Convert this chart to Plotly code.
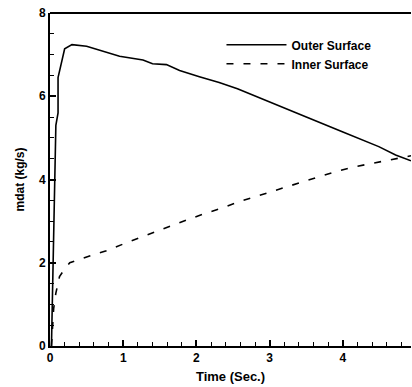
import plotly.graph_objects as go

# Data
outer_t = [0.02, 0.04, 0.06, 0.08, 0.11, 0.11, 0.2, 0.3, 0.5, 0.68, 0.95, 1.27, 1.40, 1.59,
           1.77, 2.04, 2.31, 2.56, 3.0, 3.5, 4.0, 4.26, 4.49, 4.72, 4.93]
outer_m = [0.0, 2.0, 4.0, 5.3, 5.6, 6.45, 7.14, 7.24, 7.2, 7.10, 6.96, 6.87, 6.78, 6.76,
           6.62, 6.47, 6.33, 6.18, 5.87, 5.5, 5.14, 4.95, 4.79, 4.59, 4.45]

inner_t = [0.02, 0.03, 0.05, 0.08, 0.13, 0.2, 0.27, 0.54, 0.77, 1.0, 1.22, 1.45, 1.68, 1.9,
           2.13, 2.36, 2.59, 3.0, 3.5, 3.90, 4.17, 4.40, 4.62, 4.85, 4.93]
inner_m = [0.0, 0.45, 0.9, 1.27, 1.67, 1.85, 2.0, 2.16, 2.29, 2.45, 2.6, 2.75, 2.91, 3.05,
           3.19, 3.32, 3.47, 3.7, 3.97, 4.19, 4.31, 4.39, 4.47, 4.55, 4.57]

x_ticks = [0, 1, 2, 3, 4]
y_ticks = [0, 2, 4, 6, 8]

FONT = "Liberation Sans, Arial, sans-serif"

fig = go.Figure()
fig.add_trace(go.Scatter(x=outer_t, y=outer_m, mode="lines", name="Outer Surface",
                         line=dict(color="black", width=1.6)))
fig.add_trace(go.Scatter(x=inner_t, y=inner_m, mode="lines", name="Inner Surface",
                         line=dict(color="black", width=1.6, dash="7px,10px")))

axis_common = dict(showgrid=False, zeroline=False, showline=True, linecolor="black",
                   linewidth=2, ticks="inside", ticklen=6, tickwidth=1.5, tickcolor="black",
                   tickfont=dict(family=FONT, size=12, color="black", weight="bold"))

fig.update_xaxes(range=[0, 4.93], tickvals=x_ticks, ticktext=[str(v) for v in x_ticks],
                 minor=dict(dtick=0.2, tick0=0, ticks="inside", ticklen=4, tickwidth=1, tickcolor="black"),
                 title=dict(text="Time (Sec.)", font=dict(family=FONT, size=13, color="black", weight="bold"),
                            standoff=7),
                 **axis_common)
fig.update_yaxes(range=[0, 8], tickvals=y_ticks, ticktext=[str(v) for v in y_ticks],
                 minor=dict(dtick=0.5, tick0=0, ticks="inside", ticklen=4, tickwidth=1, tickcolor="black"),
                 title=dict(text="mdat (kg/s)", font=dict(family=FONT, size=12, color="black", weight="bold"),
                            standoff=12),
                 **axis_common)

fig.add_shape(type="line", xref="paper", yref="paper", x0=0, x1=1, y0=1, y1=1,
              line=dict(color="black", width=2))

fig.update_layout(
    width=412, height=387,
    margin=dict(l=50, r=1, t=13, b=41),
    paper_bgcolor="white", plot_bgcolor="white",
    showlegend=True,
    legend=dict(x=0.475, y=0.948, xanchor="left", yanchor="top", bgcolor="rgba(0,0,0,0)",
                font=dict(family=FONT, size=12, color="black", weight="bold"),
                tracegroupgap=0, itemwidth=60),
)

fig.write_html("out.html")
